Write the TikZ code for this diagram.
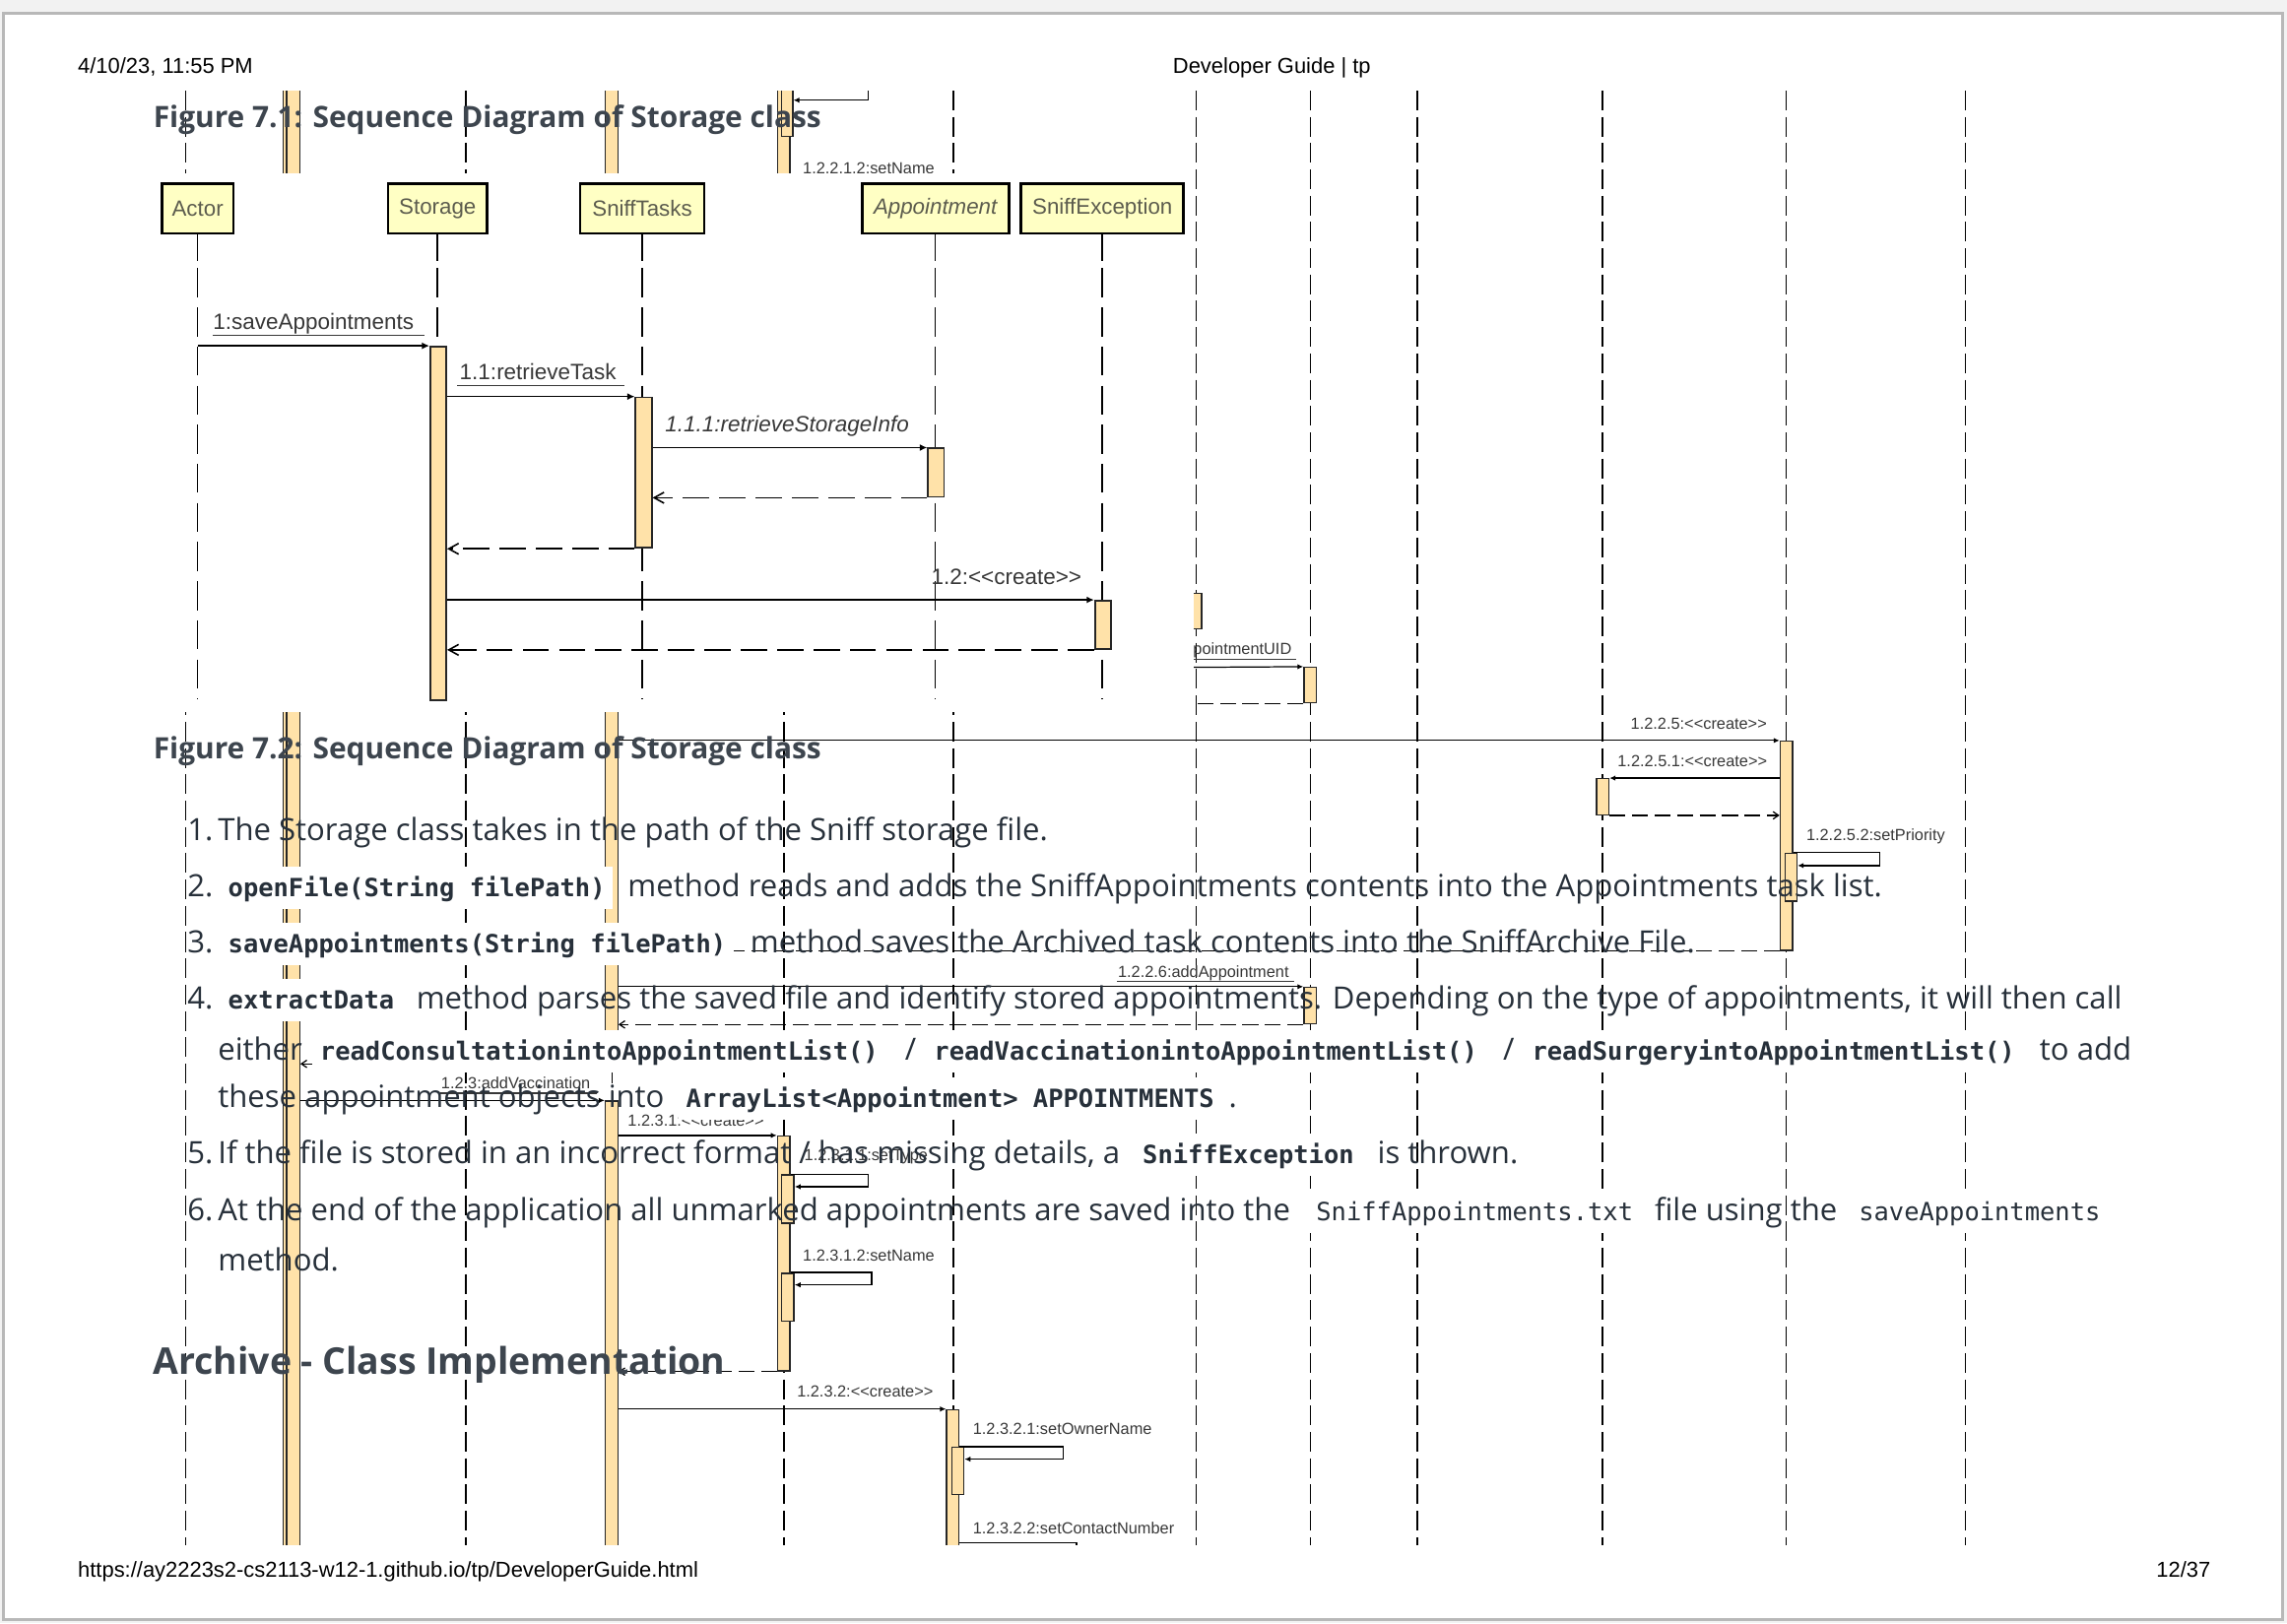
\documentclass[tikz,border=0pt]{standalone}
\usepackage{fontspec}
\newfontfamily\bodyfont{Open Sans}
\newfontfamily\arialfont{Liberation Sans}
\newfontfamily\codefont{DejaVu Sans Mono}
\usetikzlibrary{arrows.meta,positioning}
\newcommand\pxu{0.1481mm}
\definecolor{pagegray}{HTML}{F2F2F2}
\definecolor{framegray}{HTML}{B8B8B8}
\definecolor{inktext}{HTML}{27303A}
\definecolor{boxyellow}{HTML}{FFFFC4}
\definecolor{barorange}{HTML}{FFE2A9}
\definecolor{labelgray}{HTML}{383838}
\definecolor{boxtext}{HTML}{5C5C4E}
\tikzset{
  >={Latex[length=0.75mm,width=0.7mm]},
  % page
  headtxt/.style={font=\arialfont\fontsize{6.24}{7}\selectfont,inner sep=0pt,text=black},
  txt/.style={anchor=base west,inner sep=0pt,font=\bodyfont\fontsize{8.85}{10}\selectfont,text=inktext},
  headline/.style={anchor=base west,inner sep=0pt,font=\bodyfont\bfseries\fontsize{8.5}{10}\selectfont,text=inktext!90},
  cd/.style={anchor=base west,fill=white,inner xsep=2.1pt,inner ysep=0pt,text height=8.8pt,
             text depth=3.4pt,font=\codefont\bfseries\fontsize{7.24}{8}\selectfont,text=inktext},
  cdr/.style={cd,font=\codefont\fontsize{7.24}{8}\selectfont},
  % figure 7.1
  lifebox/.style={draw=black,line width=0.8pt,fill=boxyellow,inner sep=0pt,minimum height=34*\pxu,
                  font=\arialfont\fontsize{6.35}{7}\selectfont,text=boxtext},
  life/.style={draw=black,line width=0.45pt},
  lifedash/.style={life,dash pattern=on 8.4pt off 2.9pt},
  actbar/.style={draw=black!85,line width=0.5pt,fill=barorange,inner sep=0pt,minimum width=11*\pxu},
  msg/.style={->,draw=black,line width=0.45pt},
  ret/.style={-{Straight Barb[length=1mm,width=1.1mm]},draw=black,line width=0.45pt,
              dash pattern=on 7.6pt off 2.9pt},
  mlbl/.style={anchor=base west,inner sep=0pt,font=\arialfont\fontsize{6.4}{7}\selectfont,text=labelgray},
  ul/.style={draw=labelgray,line width=0.45pt},
  % figure 7.2 (behind)
  lifeback/.style={draw=black,line width=0.45pt,dash pattern=on 5.7pt off 1.9pt},
  barback/.style={actbar,line width=0.4pt,minimum width=8.5*\pxu},
  barline/.style={draw=black!85,line width=0.4pt},
  msgb/.style={-{Latex[length=0.6mm,width=0.55mm]},draw=black,line width=0.35pt},
  retb/.style={-{Straight Barb[length=0.55mm,width=0.75mm]},draw=black,line width=0.35pt,
               dash pattern=on 4.6pt off 1.9pt},
  lblb/.style={anchor=base west,inner sep=0pt,font=\arialfont\fontsize{4.65}{5}\selectfont,text=labelgray},
  ulb/.style={draw=labelgray,line width=0.35pt},
}
\begin{document}
\begin{tikzpicture}[x=0.1481mm,y=-0.1481mm]
  \useasboundingbox (0,0) rectangle (1568,1113);
  % page
  \fill[pagegray] (0,0) rectangle (1568,1113);
  \draw[framegray,line width=0.9pt,fill=white] (2.5,9) rectangle (1565,1110.5);
  \node[headtxt,anchor=base west] (hdate) at (53,50.3) {4/10/23, 11:55 PM};
  \node[headtxt,anchor=base] (htitle) at (872,50.3) {Developer Guide | tp};
  \node[headtxt,anchor=base west] (furl) at (53,1081.3) {https://ay2223s2-cs2113-w12-1.github.io/tp/DeveloperGuide.html};
  \node[headtxt,anchor=base east] (fpage) at (1516,1081.3) {12/37};

  % figure 7.2, seen behind the page
  \begin{scope}
  \clip (0,62.5) rectangle (1568,1059);
  \foreach \lx in {127.3,199.7,319.6,419.7,537.6,653.5,820,898.4,971.6,1098.6,1224.7,1347.5}
    \draw[lifeback] (\lx,62) -- (\lx,1062);
  \node[barback,minimum width=11.5*\pxu,minimum height=1001*\pxu] (bA) at (199.7,560.5) {};
  \draw[barline] ([xshift=3*\pxu]bA.north west) -- ([xshift=3*\pxu]bA.south west);
  \node[barback,minimum height=669*\pxu] (bB1) at (419.3,394.5) {};
  \node[barback,minimum height=306*\pxu] (bB2) at (419.3,908) {};
  \node[barback,minimum height=240*\pxu] (bC) at (537.3,180) {};
  \node[barback,minimum width=7.8*\pxu,minimum height=33.4*\pxu] (bC1) at (539.6,76.7) {};
  \node[barback,minimum height=24.3*\pxu] (bD) at (819.5,418.85) {};
  \node[barback,minimum height=24.4*\pxu] (bE) at (898.3,469.8) {};
  \node[barback,minimum height=143.4*\pxu] (bF) at (1224.8,579.9) {};
  \node[barback,minimum height=24.6*\pxu] (bG) at (1098.8,546.3) {};
  \node[barback,minimum width=8*\pxu,minimum height=32.8*\pxu] (bH) at (1228,601.4) {};
  \node[barback,minimum height=25*\pxu] (bI) at (898.3,689.5) {};
  \node[barback,minimum height=161*\pxu] (bJ) at (537.3,859.5) {};
  \node[barback,minimum width=8.7*\pxu,minimum height=33*\pxu] (bK) at (540,822.1) {};
  \node[barback,minimum width=8.7*\pxu,minimum height=33*\pxu] (bL) at (540,889.5) {};
  \node[barback,minimum height=94.4*\pxu] (bM) at (653.3,1013.8) {};
  \node[barback,minimum width=8.1*\pxu,minimum height=32.3*\pxu] (bN) at (656.8,1008.65) {};
  % top strip
  \coordinate (sname0) at (595,68.7);
  \draw[msgb] (sname0 |- bC.north) -- (sname0) -- (sname0 -| bC1.east);
  \node[lblb] (lb1) at (550,119.5) {1.2.2.1.2:setName};
  % right of figure 7.1
  \coordinate (uidsrc) at (810,457.6);
  \node[lblb,anchor=base east] (lbuid) at (886,449) {pointmentUID};
  \draw[ulb] ([yshift=-3*\pxu]lbuid.base west) -- ([xshift=3*\pxu,yshift=-3*\pxu]lbuid.base east);
  \draw[msgb] (uidsrc) -- (bE.north west);
  \draw[retb] (bE.south west) -- (uidsrc |- bE.south);
  % 1.2.2.5
  \draw[msgb] (bB1.east |- bF.north) -- (bF.north west);
  \node[lblb] (lb1225) at (1117.6,500) {1.2.2.5:<<create>>};
  \draw[msgb] (bF.west |- bG.north) -- (bG.north east);
  \node[lblb] (lb12251) at (1108.6,525.7) {1.2.2.5.1:<<create>>};
  \draw[retb] (bG.south east) -- (bF.west |- bG.south);
  \coordinate (prio) at (1288.7,593.5);
  \draw[msgb] (bF.east |- bH.north) -| (prio) -- (prio -| bH.east);
  \node[lblb] (lb12252) at (1238,576.6) {1.2.2.5.2:setPriority};
  \draw[retb] (bF.south west) -- (bB1.east |- bF.south);
  % 1.2.2.6
  \draw[msgb] (bB1.east |- bI.north) -- (bI.north west);
  \node[lblb] (lb1226) at (766,670) {1.2.2.6:addAppointment};
  \draw[ulb] ([yshift=-3*\pxu]lb1226.base west) -- ([xshift=3*\pxu,yshift=-3*\pxu]lb1226.base east);
  \draw[retb] (bI.south west) -- (bB1.east |- bI.south);
  \draw[retb] (bB1.south west) -- (bA.east |- bB1.south);
  % 1.2.3
  \draw[msgb] (bA.east |- bB2.north) -- (bB2.north west);
  \node[lblb] (lb123) at (302,746.6) {1.2.3:addVaccination};
  \draw[ulb] ([yshift=-3*\pxu]lb123.base west) -- ([xshift=4*\pxu,yshift=-3*\pxu]lb123.base east);
  \draw[msgb] (bB2.east |- bJ.north) -- (bJ.north west);
  \node[lblb] (lb1231) at (430,772.4) {1.2.3.1:<<create>>};
  \coordinate (stype) at (595.4,813.7);
  \draw[msgb] (bJ.east |- bK.north) -| (stype) -- (stype -| bK.east);
  \node[lblb] (lb12311) at (551,796) {1.2.3.1.1:setType};
  \coordinate (sname) at (597.6,881);
  \draw[msgb] (bJ.east |- bL.north) -| (sname) -- (sname -| bL.east);
  \node[lblb] (lb12312) at (550,865) {1.2.3.1.2:setName};
  \draw[retb] (bJ.south west) -- (bB2.east |- bJ.south);
  \draw[msgb] (bB2.east |- bM.north) -- (bM.north west);
  \node[lblb] (lb1232) at (546,958) {1.2.3.2:<<create>>};
  \coordinate (sowner) at (729,1000.5);
  \draw[msgb] (bM.east |- bN.north) -| (sowner) -- (sowner -| bN.east);
  \node[lblb] (lb12321) at (666.6,983.8) {1.2.3.2.1:setOwnerName};
  \coordinate (scontact) at (738,1058);
  \draw[msgb] (scontact -| bM.east) -- (scontact) -- ++(0,12);
  \node[lblb] (lb12322) at (666.6,1051.5) {1.2.3.2.2:setContactNumber};
  \end{scope}

  % figure 7.1
  \fill[white] (104,119) rectangle (818.5,488);
  \node[lifebox,minimum width=49*\pxu] (actor) at (135.5,143) {Actor};
  \node[lifebox,minimum width=68*\pxu] (storage) at (300,143) {Storage};
  \node[lifebox,minimum width=85*\pxu] (tasks) at (440.3,143) {SniffTasks};
  \node[lifebox,minimum width=100.5*\pxu] (appt) at (641.3,143) {\itshape Appointment};
  \node[lifebox,minimum width=111.5*\pxu] (excep) at (755.8,143) {SniffException};
  \foreach \b in {actor,storage,tasks,appt,excep} {
    \draw[life] (\b.south) -- ++(0,18);
    \draw[lifedash] (\b.south) ++(0,23) -- ++(0,295);
  }
  \node[actbar,minimum height=242.3*\pxu] (stbar) at (300.5,358.85) {};
  \node[actbar,minimum height=103.2*\pxu] (tkbar) at (441.3,324.1) {};
  \node[actbar,minimum height=33.2*\pxu] (apbar) at (641.8,324.1) {};
  \node[actbar,minimum height=33.1*\pxu] (exbar) at (756.2,428.45) {};
  \draw[msg] (actor.south |- stbar.north) -- (stbar.north west);
  \node[mlbl] (l1) at (145.7,226) {1:saveAppointments};
  \draw[ul] ([yshift=-4*\pxu]l1.base west) -- ++(145.1,0);
  \draw[msg] (stbar.east |- tkbar.north) -- (tkbar.north west);
  \node[mlbl] (l2) at (314.7,260.5) {1.1:retrieveTask};
  \draw[ul] ([xshift=-1.1*\pxu,yshift=-4*\pxu]l2.base west) -- ++(114.4,0);
  \draw[msg] (tkbar.east |- apbar.north) -- (apbar.north west);
  \node[mlbl,font=\arialfont\itshape\fontsize{6.4}{7}\selectfont] (l3) at (455.6,296) {1.1.1:retrieveStorageInfo};
  \draw[ret] (apbar.south west) -- (tkbar.east |- apbar.south);
  \draw[ret] (tkbar.south west) -- (stbar.east |- tkbar.south);
  \draw[msg] (stbar.east |- exbar.north) -- (exbar.north west);
  \node[mlbl] (l4) at (638,400.5) {1.2:<<create>>};
  \draw[ret] (exbar.south west) -- (stbar.east |- exbar.south);

  % page text
  \node[headline] (fig71) at (104.7,87.3) {Figure 7.1: Sequence Diagram of Storage class};
  \node[headline] (fig72) at (104.7,520.6) {Figure 7.2: Sequence Diagram of Storage class};
  \node[headline,font=\bodyfont\bfseries\fontsize{10.65}{12}\selectfont] (archive) at (104.5,942.6) {Archive - Class Implementation};

  \node[txt] (n1) at (128,576.6) {1.};
  \node[txt] (t1) at (149,576.6) {The Storage class takes in the path of the Sniff storage file.};
  \node[txt] (n2) at (128,615) {2.};
  \node[cd] (c2) at (151,615) {openFile(String filePath)};
  \node[txt] (t2) at (430,615) {method reads and adds the SniffAppointments contents into the Appointments task list.};
  \node[txt] (n3) at (128,653.4) {3.};
  \node[cd] (c3) at (151,653.4) {saveAppointments(String filePath)};
  \node[txt] (t3) at (514,653.4) {method saves the Archived task contents into the SniffArchive File.};
  \node[txt] (n4) at (128,692) {4.};
  \node[cd] (c4) at (151,692) {extractData};
  \node[txt] (t4) at (285,692) {method parses the saved file and identify stored appointments. Depending on the type of appointments, it will then call};
  \node[txt] (t4b) at (149,727) {either};
  \node[cd] (c4b) at (214,727) {readConsultationintoAppointmentList()};
  \node[txt] (s4b) at (620,727) {/};
  \node[cd] (c4c) at (635,727) {readVaccinationintoAppointmentList()};
  \node[txt] (s4c) at (1030,727) {/};
  \node[cd] (c4d) at (1045,727) {readSurgeryintoAppointmentList()};
  \node[txt] (t4c) at (1398,727) {to add};
  \node[txt] (t4d) at (149,759.4) {these appointment objects into};
  \node[cd] (c4e) at (465,759.4) {ArrayList<Appointment> APPOINTMENTS};
  \node[txt] (t4e) at (842,759.4) {.};
  \node[txt] (n5) at (128,798) {5.};
  \node[txt] (t5) at (149,798) {If the file is stored in an incorrect format / has missing details, a};
  \node[cd] (c5) at (778,798) {SniffException};
  \node[txt] (t5b) at (944,798) {is thrown.};
  \node[txt] (n6) at (128,837.3) {6.};
  \node[txt] (t6) at (149,837.3) {At the end of the application all unmarked appointments are saved into the};
  \node[cdr] (c6) at (897,837.3) {SniffAppointments.txt};
  \node[txt] (t6b) at (1134,837.3) {file using the};
  \node[cdr] (c6b) at (1269,837.3) {saveAppointments};
  \node[txt] (t6c) at (149,871.7) {method.};
\end{tikzpicture}
\end{document}
